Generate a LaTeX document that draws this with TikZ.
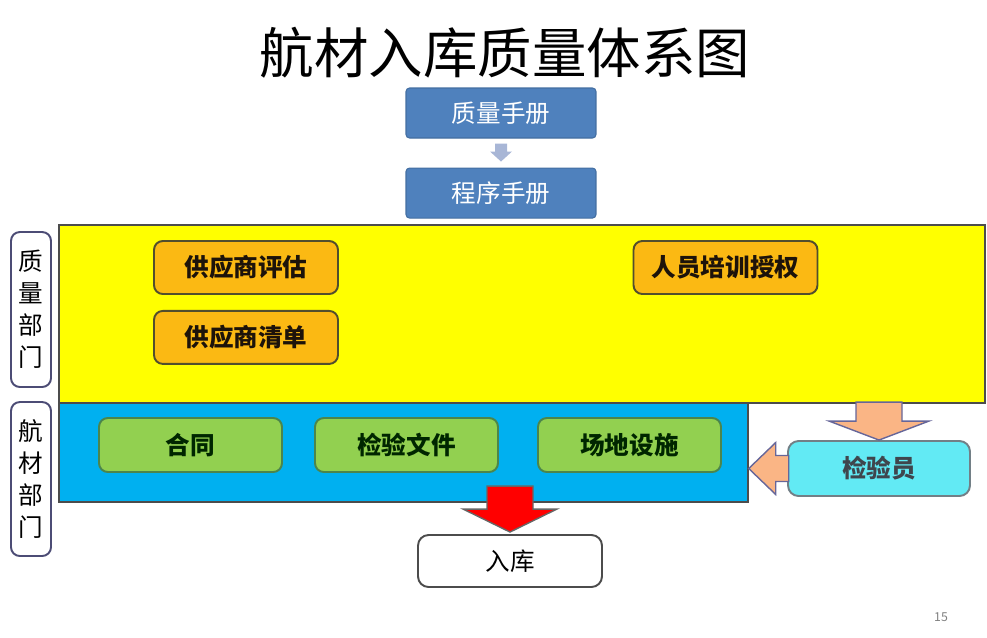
\documentclass[tikz,border=0pt]{standalone}
\usepackage{fontspec}
\setmainfont{Noto Sans CJK SC}
\usepackage{xcolor}
\usepackage{tikz}
\usetikzlibrary{positioning, calc}

\definecolor{manualblue}{HTML}{4F81BD}
\definecolor{areablue}{HTML}{00B0F0}
\definecolor{taskorange}{HTML}{FBB913}
\definecolor{docgreen}{HTML}{92D050}
\definecolor{inspcyan}{HTML}{62EAF4}
\definecolor{peach}{HTML}{FAB585}
\definecolor{arrowgray}{HTML}{A8B6D6}
\definecolor{areayellow}{HTML}{FFFF00}

\begin{document}
\begin{tikzpicture}[
			x=0.02cm, y=-0.02cm,
			% Define styles for the blocks
			manual_box/.style={
				draw=manualblue!85!black,
				fill=manualblue,
				text=white,
				line width=0.6pt,
				rounded corners=2pt,
				minimum height=1.0cm,
				minimum width=3.8cm,
				inner sep=0pt,
				font=\fontsize{14}{16}\selectfont
			},
			area/.style={
				draw=black!70,
				line width=0.9pt,
				inner sep=0pt
			},
			dept_label/.style={
				draw=black!60!blue!40!gray,
				fill=white,
				line width=1.1pt,
				rounded corners=5pt,
				minimum width=0.8cm,
				inner sep=0pt,
				align=center,
				font=\fontsize{14}{18.2}\selectfont
			},
			task_box/.style={
				draw=black!55!olive,
				fill=taskorange,
				text=black!85!brown,
				line width=1.1pt,
				rounded corners=5pt,
				minimum width=3.68cm,
				minimum height=1.06cm,
				inner sep=0pt,
				font=\fontsize{14}{16}\selectfont\bfseries
			},
			doc_box/.style={
				draw=black!45!green!40!gray,
				fill=docgreen,
				text=black!85!green,
				line width=1.1pt,
				rounded corners=5pt,
				minimum width=3.66cm,
				minimum height=1.08cm,
				inner sep=0pt,
				font=\fontsize{14}{16}\selectfont\bfseries
			},
			block_arrow/.style={
				draw=gray!80!blue,
				line width=0.8pt,
				line join=miter
			}
			]
			
			\useasboundingbox (0,0) rectangle (987,637);
			
			% --- 1. TITLE AND MANUALS ---
			\node[font=\fontsize{31}{36}\selectfont] (title) at (505,53) {航材入库质量体系图};
			\node[manual_box] (manual) at (501,113) {质量手册};
			\node[manual_box, below=0.58cm of manual] (procedure) {程序手册};
			\fill[arrowgray] ($(procedure.north)+(0,-6)$) -- ++(11,-10) -- ++(-5,0) -- ++(0,-8)
				-- ++(-12,0) -- ++(0,8) -- ++(-5,0) -- cycle;
			
			% --- 2. DEPARTMENT AREAS ---
			\node[area, fill=areayellow, minimum width=18.52cm, minimum height=3.56cm] (quality) at (522,314) {};
			\node[area, fill=areablue, minimum width=13.78cm, minimum height=1.98cm] (material) at (403.5,452.5) {};
			
			\node[dept_label, minimum height=3.1cm] (quality_label) at (31,309.5) {质\\量\\部\\门};
			\node[dept_label, minimum height=3.08cm] (material_label) at (31,479) {航\\材\\部\\门};
			
			% --- 3. QUALITY DEPARTMENT TASKS ---
			\node[task_box] (sup_eval) at (246,267.5) {供应商评估};
			\node[task_box, below=0.3cm of sup_eval] (sup_list) {供应商清单};
			\node[task_box] (training) at (725.5,267.5) {人员培训授权};
			
			% --- 4. MATERIAL DEPARTMENT DOCUMENTS ---
			\node[doc_box] (contract) at (190.5,445) {合同};
			\node[doc_box] (insp_docs) at (406.5,445) {检验文件};
			\node[doc_box] (facilities) at (629.5,445) {场地设施};
			
			% --- 5. INSPECTOR ---
			\node[draw=black!60!cyan!40!gray, fill=inspcyan, text=black!80!cyan, line width=1.1pt,
				rounded corners=6pt, minimum width=3.64cm, minimum height=1.1cm, inner sep=0pt,
				font=\fontsize{14}{16}\selectfont\bfseries] (inspector) at (879,468.5) {检验员};
			
			% Quality -> Inspector
			\draw[block_arrow, fill=peach] (inspector.north) -- ++(50,-19) -- ++(-27,0) -- ++(0,-19)
				-- ++(-46,0) -- ++(0,19) -- ++(-27,0) -- cycle;
			% Inspector -> Material
			\draw[block_arrow, fill=peach] (material.east |- inspector.west) -- ++(27,-26) -- ++(0,13)
				-- ++(13,0) -- ++(0,26) -- ++(-13,0) -- ++(0,13) -- cycle;
			
			% --- 6. OUTPUT ---
			\node[draw=black!70, fill=white, line width=1.1pt, rounded corners=6pt, minimum width=3.68cm,
				minimum height=1.04cm, inner sep=0pt, font=\fontsize{14}{16}\selectfont] (storage) at (510,561) {入库};
			
			% Material -> Storage
			\draw[block_arrow, draw=black!60, fill=red] ($(storage.north)+(0,-2)$) -- ++(47,-23) -- ++(-24,0)
				-- ++(0,-23) -- ++(-46,0) -- ++(0,23) -- ++(-24,0) -- cycle;
			
			% Page number
			\node[text=gray, font=\fontsize{7}{8}\selectfont] (page) at (941,617) {15};
			
		\end{tikzpicture}
\end{document}
